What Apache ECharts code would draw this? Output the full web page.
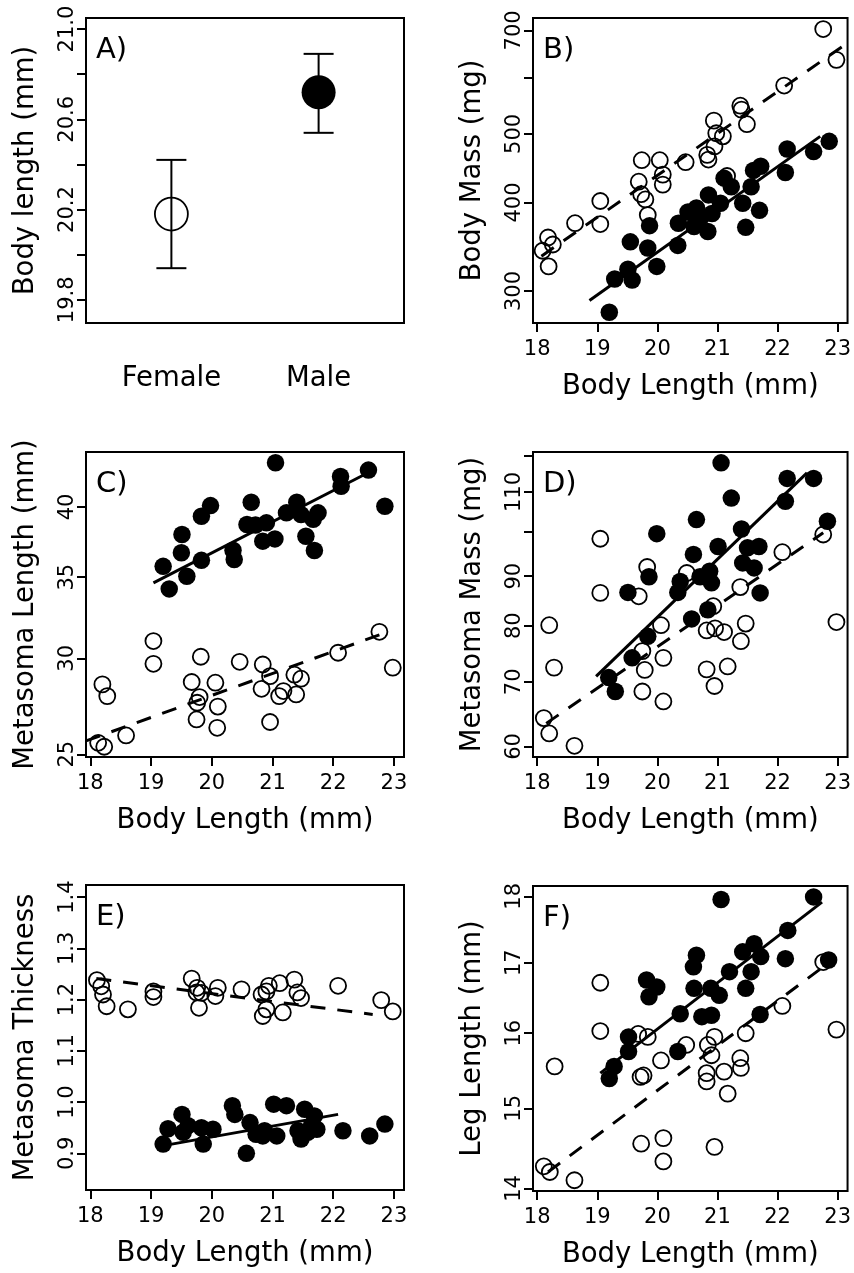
<!DOCTYPE html>
<html>
<head>
<meta charset="utf-8">
<script src="https://cdn.jsdelivr.net/npm/echarts@6/dist/echarts.min.js"></script>
<style>
html, body { margin: 0; padding: 0; background: #fff; }
#main { width: 854px; height: 1273px; }
</style>
</head>
<body>
<div id="main"></div>
<script>
// panel A: body length by sex (mean and interval)
var groups = ['Female', 'Male'];
var bodyMean = [20.18, 20.72];
var bodyLow = [19.94, 20.54];
var bodyHigh = [20.42, 20.89];

// panel B: body mass (mg) vs body length (mm)
var massF = [[18.09,342],[18.18,357],[18.26,349],[18.19,325],[18.63,374],[19.05,402],[19.05,373],[19.69,428],[19.74,459],[19.73,411],[19.80,404],[19.84,384],[20.04,459],[20.09,438],[20.09,424],[20.47,456],[20.83,467],[20.85,460],[20.94,522],[20.98,501],[20.95,480],[21.09,496],[21.16,436],[21.38,548],[21.40,541],[21.49,516],[22.11,585],[22.76,703],[22.98,636]];
var massM = [[19.20,280],[19.29,312],[19.51,322],[19.58,311],[19.55,352],[19.84,345],[19.87,371],[19.99,325],[20.34,348],[20.35,374],[20.51,388],[20.61,370],[20.65,393],[20.73,382],[20.84,364],[20.85,410],[20.91,386],[21.05,399],[21.11,433],[21.23,421],[21.42,399],[21.47,369],[21.56,421],[21.60,444],[21.72,450],[21.70,390],[22.13,441],[22.16,476],[22.60,472],[22.86,488]];
var massFitF = [[18.07,336],[23.12,668]];
var massFitM = [[18.87,291],[22.71,496]];

// panel C: metasoma length
var metaLenF = [[18.13,25.55],[18.23,25.36],[18.20,28.55],[18.28,27.92],[18.59,25.91],[19.04,31.0],[19.04,29.69],[19.67,28.68],[19.80,27.87],[19.76,27.57],[19.75,26.71],[19.82,30.09],[20.06,28.64],[20.10,27.37],[20.09,26.29],[20.46,29.80],[20.84,29.65],[20.82,28.31],[20.96,29.0],[20.96,26.58],[21.11,27.92],[21.18,28.19],[21.36,29.08],[21.39,28.01],[21.47,28.86],[22.08,30.32],[22.76,31.55],[22.98,29.47]];
var metaLenM = [[19.20,35.73],[19.30,34.23],[19.51,37.96],[19.50,36.66],[19.59,35.06],[19.83,36.14],[19.83,39.3],[19.98,40.1],[20.35,36.84],[20.37,36.2],[20.65,40.36],[20.58,38.69],[20.72,38.65],[20.84,37.48],[20.90,38.81],[21.04,37.64],[21.05,43.5],[21.23,39.55],[21.40,40.36],[21.47,39.42],[21.55,37.83],[21.67,39.07],[21.75,39.55],[21.69,36.82],[22.13,41.6],[22.12,42.38],[22.58,42.9],[22.85,40.05]];
var metaLenFitF = [[17.93,25.64],[22.85,31.49]];
var metaLenFitM = [[19.04,34.62],[22.54,42.6]];

// panel D: metasoma mass
var metaMassF = [[18.11,64.2],[18.20,61.9],[18.20,80.1],[18.28,72.4],[18.62,60.1],[19.05,98.4],[19.05,86.5],[19.83,92.0],[19.69,85.8],[20.06,80.1],[19.75,75.3],[20.10,74.1],[19.79,72.0],[19.75,68.4],[20.10,66.8],[20.49,90.7],[20.93,83.8],[20.82,79.1],[20.96,79.5],[21.11,78.8],[21.47,80.4],[21.39,77.1],[20.82,72.1],[21.17,72.6],[20.95,69.3],[21.38,87.7],[22.08,95.3],[22.76,99.4],[22.98,80.7]];
var metaMassM = [[19.19,70.7],[19.30,68.4],[19.58,74.1],[19.51,86.6],[19.86,89.9],[19.99,99.6],[19.84,78.0],[20.38,88.9],[20.34,86.6],[20.60,94.8],[20.65,103.0],[21.01,96.6],[21.23,108.4],[21.40,100.7],[20.87,91.1],[20.90,88.6],[20.71,89.9],[20.57,81.3],[20.84,83.1],[21.71,86.5],[21.50,96.3],[21.69,96.6],[21.42,92.9],[21.61,91.8],[21.06,117.9],[22.16,113.6],[22.13,107.6],[22.60,113.6],[22.83,102.6]];
var metaMassFitF = [[18.15,63.4],[22.76,99.8]];
var metaMassFitM = [[18.98,70.9],[22.49,115.1]];

// panel E: metasoma thickness
var thickF = [[18.11,1.238],[18.18,1.226],[18.21,1.21],[18.27,1.187],[18.62,1.181],[19.04,1.216],[19.04,1.205],[19.67,1.241],[19.76,1.223],[19.75,1.214],[19.79,1.184],[19.83,1.213],[20.10,1.223],[20.06,1.207],[20.49,1.220],[20.82,1.210],[20.84,1.168],[20.90,1.181],[20.94,1.227],[20.90,1.216],[21.12,1.232],[21.17,1.175],[21.36,1.239],[21.41,1.214],[21.47,1.203],[22.08,1.227],[22.79,1.199],[22.98,1.177]];
var thickM = [[19.20,0.918],[19.28,0.948],[19.51,0.976],[19.53,0.941],[19.61,0.954],[19.83,0.950],[19.86,0.918],[20.02,0.947],[20.34,0.993],[20.38,0.976],[20.57,0.900],[20.63,0.960],[20.73,0.937],[20.87,0.944],[20.84,0.934],[21.02,0.996],[21.07,0.934],[21.23,0.993],[21.47,0.928],[21.53,0.986],[21.58,0.941],[21.69,0.973],[21.64,0.954],[21.73,0.947],[22.16,0.944],[22.60,0.934],[22.85,0.957],[21.42,0.944]];
var thickFitF = [[18.1,1.241],[22.65,1.171]];
var thickFitM = [[19.25,0.916],[22.08,0.976]];

// panel F: leg length
var legF = [[18.11,14.27],[18.21,14.20],[18.29,15.55],[18.62,14.10],[19.05,16.71],[19.05,16.03],[19.68,15.99],[19.84,15.95],[19.77,15.43],[19.72,15.41],[20.06,15.63],[20.48,15.84],[20.95,15.95],[20.84,15.84],[20.90,15.70],[20.82,15.46],[20.82,15.35],[21.11,15.48],[21.17,15.19],[21.38,15.66],[21.39,15.53],[21.47,16.0],[22.08,16.38],[19.73,14.55],[20.10,14.62],[20.10,14.33],[20.95,14.51],[22.76,17.01],[22.98,16.05]];
var legM = [[19.20,15.39],[19.28,15.55],[19.52,15.95],[19.52,15.75],[19.82,16.75],[19.86,16.51],[19.99,16.65],[20.34,15.75],[20.38,16.27],[20.60,16.94],[20.65,17.11],[20.61,16.63],[20.74,16.23],[20.90,16.25],[20.89,16.63],[21.03,16.53],[21.20,16.87],[21.42,17.16],[21.61,17.28],[21.72,17.09],[21.56,16.87],[21.47,16.63],[21.71,16.26],[22.13,17.06],[22.17,17.48],[21.06,17.95],[22.60,17.99],[22.85,17.04]];
var legFitF = [[18.18,14.20],[22.76,16.94]];
var legFitM = [[19.05,15.46],[22.74,17.91]];

// axis ticks
var xTicks = [18, 19, 20, 21, 22, 23];
var panelLetters = ['A)', 'B)', 'C)', 'D)', 'E)', 'F)'];

var FONT = 'DejaVu Sans';
var boxes = [
    {left: 86, top: 18}, {left: 533, top: 18},
    {left: 86, top: 452}, {left: 533, top: 452},
    {left: 86, top: 885}, {left: 533, top: 886}
];

var panels = [
    null,
    {name: 'Body Mass (mg)', type: 'log', min: 270.4, max: 728.7, ticks: [300,400,500,600,700], labels: [300,400,500,700],
     f: massF, m: massM, fitF: massFitF, fitM: massFitM},
    {name: 'Metasoma Length (mm)', type: 'log', min: 24.87, max: 44.4, ticks: [25,30,35,40], labels: [25,30,35,40],
     f: metaLenF, m: metaLenM, fitF: metaLenFitF, fitM: metaLenFitM},
    {name: 'Metasoma Mass (mg)', type: 'log', min: 58.52, max: 120.98, ticks: [60,70,80,90,100,110,120], labels: [60,70,80,90,110],
     f: metaMassF, m: metaMassM, fitF: metaMassFitF, fitM: metaMassFitM},
    {name: 'Metasoma Thickness', type: 'value', min: 0.8284, max: 1.4237, ticks: [0.9,1.0,1.1,1.2,1.3,1.4], labels: [0.9,1.0,1.1,1.2,1.3,1.4], digits: 1,
     f: thickF, m: thickM, fitF: thickFitF, fitM: thickFitM},
    {name: 'Leg Length (mm)', type: 'log', min: 13.97, max: 18.16, ticks: [14,15,16,17,18], labels: [14,15,16,17,18],
     f: legF, m: legM, fitF: legFitF, fitM: legFitM}
];

var tickStyle = {length: 9, lineStyle: {color: '#000', width: 2}};
var labelStyle = {fontFamily: FONT, fontSize: 21, color: '#000'};
var nameStyle = {fontFamily: FONT, fontSize: 27.5, color: '#000'};
var openStyle = {color: 'rgba(0,0,0,0)', borderColor: '#000', borderWidth: 1.8, opacity: 1};
var filledStyle = {color: '#000', opacity: 1};

var grids = [], xAxes = [], yAxes = [], series = [], titles = [];

boxes.forEach(function (b, i) {
    grids.push({left: b.left, top: b.top, width: 318, height: 305, show: true,
        borderColor: '#000', borderWidth: 2, backgroundColor: 'transparent'});
    titles.push({text: panelLetters[i], left: b.left + 10, top: b.top + 18, padding: 0,
        textStyle: {fontFamily: FONT, fontSize: 29, fontWeight: 'normal', color: '#000'}});
});

// panel A axes
xAxes.push({
    type: 'value', gridIndex: 0, min: 0.42, max: 2.58,
    axisLine: {show: false}, splitLine: {show: false}, axisTick: {show: false},
    axisLabel: {customValues: [1, 2], margin: 42, fontFamily: FONT, fontSize: 27.5, color: '#000',
        formatter: function (v) { return groups[Math.round(v) - 1]; }}
});
yAxes.push({
    type: 'value', gridIndex: 0, min: 19.697, max: 21.049,
    name: 'Body length (mm)', nameLocation: 'middle', nameGap: 46, nameTextStyle: nameStyle,
    axisLine: {show: false}, splitLine: {show: false},
    axisTick: Object.assign({customValues: [19.8,20.0,20.2,20.4,20.6,20.8,21.0]}, tickStyle),
    axisLabel: Object.assign({customValues: [19.8,20.2,20.6,21.0], rotate: 90, margin: 8,
        formatter: function (v) { return v.toFixed(1); }}, labelStyle)
});

for (var i = 1; i < 6; i++) {
    var p = panels[i];
    xAxes.push({
        type: 'value', gridIndex: i, min: 17.93, max: 23.165,
        name: 'Body Length (mm)', nameLocation: 'middle', nameGap: 50, nameTextStyle: nameStyle,
        axisLine: {show: false}, splitLine: {show: false},
        axisTick: Object.assign({customValues: xTicks}, tickStyle),
        axisLabel: Object.assign({customValues: xTicks, margin: 16}, labelStyle)
    });
    yAxes.push({
        type: p.type, gridIndex: i, min: p.min, max: p.max,
        name: p.name, nameLocation: 'middle', nameGap: 46, nameTextStyle: nameStyle,
        axisLine: {show: false}, splitLine: {show: false},
        axisTick: Object.assign({customValues: p.ticks}, tickStyle),
        axisLabel: Object.assign({customValues: p.labels, rotate: 90, margin: 8,
            formatter: (function (d) { return function (v) { return d ? (+v).toFixed(d) : String(Math.round(v)); }; })(p.digits)
        }, labelStyle)
    });
}

// panel A marks
series.push({
    type: 'custom', xAxisIndex: 0, yAxisIndex: 0, silent: true,
    data: groups.map(function (g, k) { return [k + 1, bodyLow[k], bodyHigh[k]]; }),
    renderItem: function (params, api) {
        var hi = api.coord([api.value(0), api.value(2)]);
        var lo = api.coord([api.value(0), api.value(1)]);
        var st = {stroke: '#000', lineWidth: 2};
        return {type: 'group', children: [
            {type: 'line', shape: {x1: hi[0], y1: hi[1], x2: lo[0], y2: lo[1]}, style: st},
            {type: 'line', shape: {x1: hi[0] - 15, y1: hi[1], x2: hi[0] + 15, y2: hi[1]}, style: st},
            {type: 'line', shape: {x1: lo[0] - 15, y1: lo[1], x2: lo[0] + 15, y2: lo[1]}, style: st}
        ]};
    }
});
series.push({
    type: 'scatter', xAxisIndex: 0, yAxisIndex: 0, symbolSize: 33, silent: true,
    itemStyle: openStyle,
    data: [[1, bodyMean[0]]]
});
series.push({
    type: 'scatter', xAxisIndex: 0, yAxisIndex: 0, symbolSize: 34, silent: true,
    itemStyle: filledStyle,
    data: [[2, bodyMean[1]]]
});

// panels B-F
for (var j = 1; j < 6; j++) {
    var q = panels[j];
    series.push({
        type: 'scatter', xAxisIndex: j, yAxisIndex: j, symbolSize: 16, silent: true,
        itemStyle: openStyle,
        data: q.f
    });
    series.push({
        type: 'scatter', xAxisIndex: j, yAxisIndex: j, symbolSize: 17.5, silent: true,
        itemStyle: filledStyle,
        data: q.m
    });
    series.push({
        type: 'line', xAxisIndex: j, yAxisIndex: j, symbol: 'none', silent: true, clip: true,
        lineStyle: {color: '#000', width: 3, type: [15, 12]},
        data: q.fitF
    });
    series.push({
        type: 'line', xAxisIndex: j, yAxisIndex: j, symbol: 'none', silent: true, clip: true,
        lineStyle: {color: '#000', width: 3},
        data: q.fitM
    });
}

var myChart = echarts.init(document.getElementById('main'));
myChart.setOption({
    animation: false,
    backgroundColor: '#fff',
    title: titles,
    grid: grids,
    xAxis: xAxes,
    yAxis: yAxes,
    series: series
});
</script>
</body>
</html>
